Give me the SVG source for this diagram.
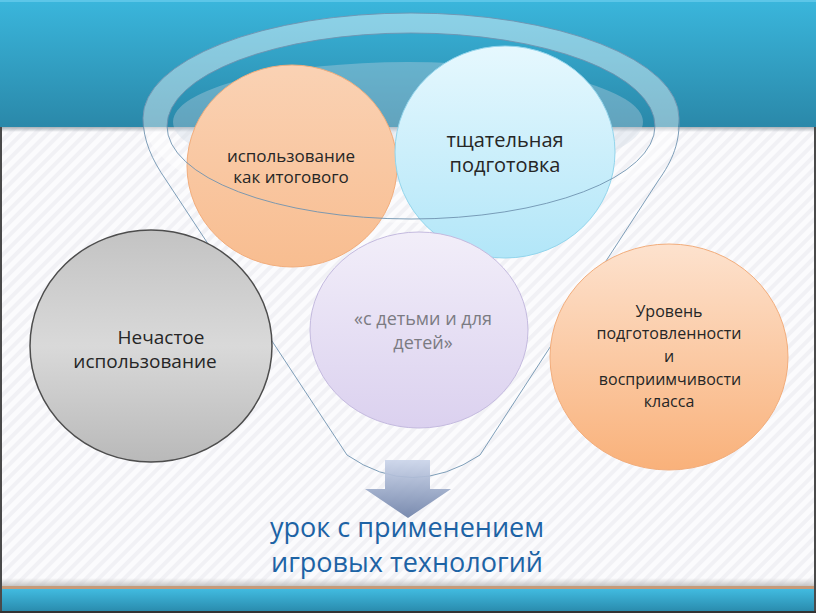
<svg xmlns="http://www.w3.org/2000/svg" width="816" height="613" viewBox="0 0 816 613">
<defs>
<style>
.t{font-family:"Open Sans","Noto Sans","DejaVu Sans",sans-serif;fill:#262626;text-anchor:middle}
.rim{fill:none;stroke:#6f93b0;stroke-width:0.9}
</style>
<linearGradient id="topband" x1="0" y1="0" x2="0" y2="1">
<stop offset="0" stop-color="#3ab6dc"/><stop offset="1" stop-color="#2a88a9"/>
</linearGradient>
<linearGradient id="botband" x1="0" y1="0" x2="0" y2="1">
<stop offset="0" stop-color="#41bbe0"/><stop offset="1" stop-color="#2a8cae"/>
</linearGradient>
<linearGradient id="shadowTop" x1="0" y1="0" x2="0" y2="1">
<stop offset="0" stop-color="#a9b0b6"/><stop offset="1" stop-color="#a9b0b6" stop-opacity="0"/>
</linearGradient>
<linearGradient id="shadowBot" x1="0" y1="0" x2="0" y2="1">
<stop offset="0" stop-color="#c8c8c8" stop-opacity="0"/><stop offset="1" stop-color="#bdbdbd"/>
</linearGradient>
<pattern id="stripes" width="9" height="9" patternUnits="userSpaceOnUse" patternTransform="rotate(45)">
<rect width="9" height="9" fill="#fbfbfd"/><rect width="4" height="9" fill="#f1f1f5"/>
</pattern>
<linearGradient id="gGray" x1="0" y1="0" x2="0" y2="1">
<stop offset="0" stop-color="#c3c3c3"/><stop offset="0.5" stop-color="#d9d9d9"/><stop offset="1" stop-color="#b9b9b9"/>
</linearGradient>
<linearGradient id="gOr1" x1="0" y1="0" x2="0" y2="1">
<stop offset="0" stop-color="#fad2b4"/><stop offset="1" stop-color="#f8bd90"/>
</linearGradient>
<linearGradient id="gOr2" x1="0" y1="0" x2="0" y2="1">
<stop offset="0" stop-color="#fde2ce"/><stop offset="1" stop-color="#f9b17a"/>
</linearGradient>
<linearGradient id="gBlue" x1="0" y1="0" x2="0" y2="1">
<stop offset="0" stop-color="#e6f8fe"/><stop offset="1" stop-color="#b2e6f8"/>
</linearGradient>
<linearGradient id="gPur" x1="0" y1="0" x2="0" y2="1">
<stop offset="0" stop-color="#f2eef9"/><stop offset="1" stop-color="#dbd1ef"/>
</linearGradient>
<linearGradient id="gArrow" x1="0" y1="0" x2="0" y2="1">
<stop offset="0" stop-color="#cbd5ea"/><stop offset="1" stop-color="#6e81a8"/>
</linearGradient>
</defs>

<!-- background -->
<rect x="0" y="0" width="816" height="613" fill="url(#stripes)"/>
<rect x="0" y="0" width="816" height="127" fill="url(#topband)"/>
<rect x="0" y="0" width="816" height="2" fill="#5cc6e8"/>
<rect x="0" y="127" width="816" height="5" fill="url(#shadowTop)"/>
<rect x="0" y="578" width="816" height="9" fill="url(#shadowBot)"/>
<rect x="0" y="586" width="816" height="3" fill="#c69a78"/>
<rect x="0" y="589" width="816" height="22" fill="url(#botband)"/>
<rect x="0" y="127" width="2" height="486" fill="#4a4a4a"/>
<rect x="814" y="127" width="2" height="486" fill="#4a4a4a"/>
<rect x="0" y="611" width="816" height="2" fill="#333"/>

<!-- funnel (back) -->
<g id="funnel">
<ellipse cx="408" cy="122" rx="235" ry="60" fill="#cbd6e3" fill-opacity="0.35"/>
<path fill-rule="evenodd" d="M143,118 A268,105 0 1 1 679,118 A268,105 0 1 1 143,118 Z M167,126 A244,93 0 1 0 655,126 A244,93 0 1 0 167,126 Z" fill="#ffffff" fill-opacity="0.42"/>
<path d="M143,118 A268,105 0 0 1 679,118 C680,142 673,160 658,181 L480,455 Q412,500 347,455 L166,180 C152,160 143,140 143,118 Z" fill="none" stroke="#6f93b0" stroke-width="0.9"/>
</g>

<!-- nodes -->
<g id="node-itog">
<ellipse cx="292" cy="166" rx="105" ry="101" fill="url(#gOr1)" stroke="#f2ad7c" stroke-width="1"/>
<text class="t" font-size="17"><tspan x="291" y="162">использование</tspan><tspan x="291" y="183">как итогового</tspan></text>
</g>
<g id="node-podg">
<ellipse cx="505" cy="152" rx="110" ry="106" fill="url(#gBlue)" stroke="#93d5ec" stroke-width="1"/>
<text class="t" font-size="20"><tspan x="505" y="147">тщательная</tspan><tspan x="505" y="172">подготовка</tspan></text>
</g>
<g id="node-deti">
<ellipse cx="419" cy="330" rx="109" ry="98" fill="url(#gPur)" stroke="#c4badf" stroke-width="1"/>
<text class="t" font-size="18" style="fill:#7b7b82"><tspan x="423" y="325">«с детьми и для</tspan><tspan x="423" y="349">детей»</tspan></text>
</g>
<g id="node-nechast">
<ellipse cx="151" cy="346" rx="121" ry="116" fill="url(#gGray)" stroke="#4d4d4d" stroke-width="1.5"/>
<text class="t" font-size="19"><tspan x="161" y="344">Нечастое</tspan><tspan x="145" y="368">использование</tspan></text>
</g>
<g id="node-uroven">
<ellipse cx="669" cy="357" rx="119" ry="113" fill="url(#gOr2)" stroke="#f2ad7c" stroke-width="1"/>
<text class="t" font-size="16"><tspan x="669" y="317">Уровень</tspan><tspan x="669" y="339">подготовленности</tspan><tspan x="669" y="362">и</tspan><tspan x="670" y="385">восприимчивости</tspan><tspan x="669" y="407">класса</tspan></text>
</g>

<!-- connectors: funnel front rim and arrow -->
<g id="connectors">
<ellipse class="rim" cx="411" cy="126" rx="244" ry="93"/>
<path d="M385,460 H430 V489 H451 L408,518 L365,489 H385 Z" fill="url(#gArrow)" fill-opacity="0.92"/>
</g>

<g id="result">
<text class="t" font-size="27" style="fill:#1d63a5"><tspan x="407" y="537">урок с применением</tspan><tspan x="407" y="572">игровых технологий</tspan></text>
</g>
</svg>
